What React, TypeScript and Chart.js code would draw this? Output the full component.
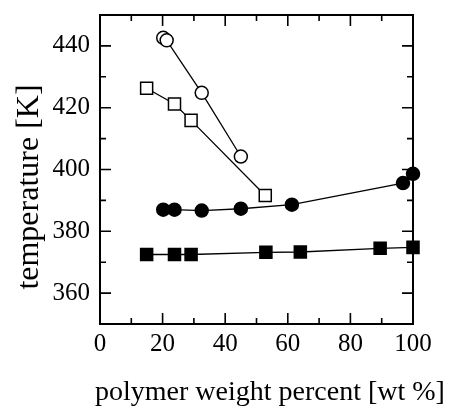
import React, { useEffect, useRef } from "react";
import { Chart, registerables } from "chart.js";

Chart.register(...registerables);

// Open circles
const openCircleX = [20.2, 21.3, 32.5, 45.0];
const openCircleY = [442.6, 441.8, 424.8, 404.2];
// Open squares
const openSquareX = [14.9, 23.8, 29.1, 52.8];
const openSquareY = [426.3, 421.2, 415.9, 391.6];
// Filled circles
const filledCircleX = [20.2, 23.8, 32.5, 45.0, 61.3, 96.8, 100];
const filledCircleY = [387.0, 387.0, 386.7, 387.3, 388.6, 395.6, 398.6];
// Filled squares
const filledSquareX = [14.9, 23.8, 29.1, 53.0, 64.0, 89.5, 100];
const filledSquareY = [372.5, 372.5, 372.5, 373.2, 373.3, 374.5, 374.8];

const xTicks = [0, 20, 40, 60, 80, 100];
const xMinorTicks = [10, 30, 50, 70, 90];
const yTicks = [360, 380, 400, 420, 440];
const yMinorTicks = [350, 370, 390, 410, 430, 450];

const xTitle = "polymer weight percent [wt %]";
const yTitle = "temperature [K]";

const FONT = "'Liberation Serif', 'Times New Roman', serif";

const toPts = (xs: number[], ys: number[]) => xs.map((x, i) => ({ x, y: ys[i] }));

const framePlugin = {
  id: "frameTicks",
  afterDraw(chart: any) {
    const { ctx, chartArea } = chart;
    const { left, right, top, bottom } = chartArea;
    const xs = chart.scales.x;
    const ys = chart.scales.y;
    ctx.save();
    ctx.strokeStyle = "#000";
    ctx.lineWidth = 2;
    ctx.strokeRect(left, top, right - left, bottom - top);
    ctx.lineWidth = 1.6;
    const major = 11;
    const minor = 6;
    ctx.beginPath();
    const drawX = (v: number, len: number) => {
      const px = xs.getPixelForValue(v);
      ctx.moveTo(px, bottom);
      ctx.lineTo(px, bottom - len);
      ctx.moveTo(px, top);
      ctx.lineTo(px, top + len);
    };
    const drawY = (v: number, len: number) => {
      const py = ys.getPixelForValue(v);
      ctx.moveTo(left, py);
      ctx.lineTo(left + len, py);
      ctx.moveTo(right, py);
      ctx.lineTo(right - len, py);
    };
    xTicks.forEach((v) => drawX(v, major));
    xMinorTicks.forEach((v) => drawX(v, minor));
    yTicks.forEach((v) => drawY(v, major));
    yMinorTicks.forEach((v) => drawY(v, minor));
    ctx.stroke();

    // axis titles
    ctx.fillStyle = "#000";
    ctx.font = `28px ${FONT}`;
    ctx.textAlign = "center";
    ctx.textBaseline = "alphabetic";
    ctx.fillText(xTitle, 270, 400);

    ctx.translate(38, 187);
    ctx.rotate(-Math.PI / 2);
    ctx.font = `32px ${FONT}`;
    ctx.textAlign = "center";
    ctx.textBaseline = "alphabetic";
    ctx.fillText(yTitle, 0, 0);
    ctx.restore();
  },
};

export default function App() {
  const ref = useRef<HTMLCanvasElement | null>(null);

  useEffect(() => {
    if (!ref.current) return;
    const common = {
      borderColor: "#000",
      borderWidth: 1.3,
      pointBorderColor: "#000",
      pointBorderWidth: 1.5,
      showLine: true,
      clip: false as any,
      tension: 0,
    };
    const chart = new Chart(ref.current, {
      type: "scatter",
      data: {
        datasets: [
          {
            ...common,
            label: "open circles",
            data: toPts(openCircleX, openCircleY),
            pointStyle: "circle",
            pointRadius: 6.5,
            pointBackgroundColor: "#fff",
          },
          {
            ...common,
            label: "open squares",
            data: toPts(openSquareX, openSquareY),
            pointStyle: "rect",
            pointRadius: 8.5,
            pointBackgroundColor: "#fff",
          },
          {
            ...common,
            label: "filled circles",
            data: toPts(filledCircleX, filledCircleY),
            pointStyle: "circle",
            pointRadius: 6.5,
            pointBackgroundColor: "#000",
          },
          {
            ...common,
            label: "filled squares",
            data: toPts(filledSquareX, filledSquareY),
            pointStyle: "rect",
            pointRadius: 8.5,
            pointBackgroundColor: "#000",
          },
        ],
      },
      options: {
        responsive: false,
        animation: false,
        devicePixelRatio: 1,
        layout: { padding: { left: 0, top: 15, right: 36, bottom: 0 } },
        plugins: {
          legend: { display: false },
          tooltip: { enabled: false },
        },
        scales: {
          x: {
            type: "linear",
            min: 0,
            max: 100,
            grid: { display: false, drawTicks: false },
            border: { display: false },
            ticks: {
              padding: 5,
              color: "#000",
              font: { family: FONT, size: 25 },
              maxRotation: 0,
            },
            afterBuildTicks: (scale: any) => {
              scale.ticks = xTicks.map((v) => ({ value: v }));
            },
            afterFit: (scale: any) => {
              scale.height = 82;
              scale.paddingLeft = 0;
              scale.paddingRight = 0;
            },
          },
          y: {
            type: "linear",
            min: 350,
            max: 450,
            grid: { display: false, drawTicks: false },
            border: { display: false },
            ticks: {
              padding: 10,
              color: "#000",
              font: { family: FONT, size: 25 },
            },
            afterBuildTicks: (scale: any) => {
              scale.ticks = yTicks.map((v) => ({ value: v }));
            },
            afterFit: (scale: any) => {
              scale.width = 100;
              scale.paddingTop = 0;
              scale.paddingBottom = 0;
            },
          },
        },
      },
      plugins: [framePlugin],
    } as any);
    return () => chart.destroy();
  }, []);

  return (
    <div style={{ position: "fixed", left: 0, top: 0, width: 449, height: 406, background: "#fff" }}>
      <canvas ref={ref} width={449} height={406} style={{ display: "block" }} />
    </div>
  );
}
